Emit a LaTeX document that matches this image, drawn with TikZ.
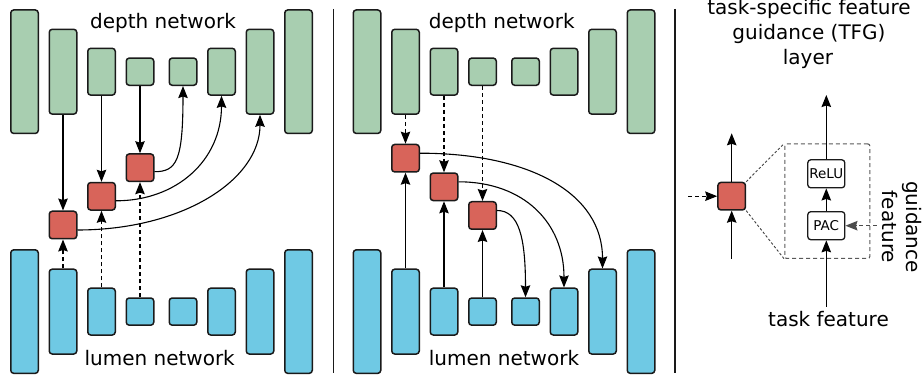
\documentclass[tikz,border=0pt]{standalone}
\usepackage{fontspec}
\setmainfont{DejaVu Sans}
\usetikzlibrary{arrows.meta}

\definecolor{depthgreen}{RGB}{168,206,176}
\definecolor{lumenblue}{RGB}{111,201,228}
\definecolor{tfgred}{RGB}{216,100,90}
\definecolor{edge}{RGB}{26,26,26}

\begin{document}
\begin{tikzpicture}[x=1pt,y=-1pt,
  blk/.style={draw=edge, line width=1.5pt, rounded corners=3pt, inner sep=0pt, minimum width=27.5pt},
  depthblk/.style={blk, fill=depthgreen},
  lumenblk/.style={blk, fill=lumenblue},
  tfgblk/.style={blk, fill=tfgred, minimum height=27.5pt},
  opblk/.style={draw=edge, line width=1.3pt, rounded corners=3pt, fill=white, inner sep=0pt,
    minimum width=37pt, minimum height=28pt, font=\fontsize{13.5}{15}\selectfont},
  conn/.style={draw=black, line width=1.1pt, -{Stealth[length=12pt,width=9.5pt,inset=1.5pt]}},
  dashconn/.style={conn, dash pattern=on 4pt off 3pt},
  label/.style={font=\fontsize{20}{24}\selectfont, inner sep=0pt},
  sep/.style={draw=edge, line width=1.2pt},
  zoomline/.style={draw=black!75, line width=0.9pt, dash pattern=on 2.5pt off 2pt},
  tfgframe/.style={draw=black!65, line width=1.1pt, dash pattern=on 4pt off 3pt, rounded corners=2pt,
    inner sep=0pt, minimum width=85pt, minimum height=114.5pt}
]
\useasboundingbox (0,0) rectangle (924,382);

% encoder-decoder stacks of both networks, left (L) and middle (M) variants
\foreach \p/\dx in {L/0, M/342.5} {
  \foreach \i/\x/\h in {1/24.5/123.5, 2/63/84.8, 3/101.5/46.8, 4/140/27.2,
                        5/183/27.2, 6/221.5/46.8, 7/260/84.8, 8/298.5/123.5} {
    \node[depthblk, minimum height=\h pt] (\p d\i) at ({\x+\dx}, 71.7) {};
    \node[lumenblk, minimum height=\h pt] (\p l\i) at ({\x+\dx}, 311.6) {};
  }
}

% network captions
\node[label, anchor=base] (Ldepth) at (163,29) {depth network};
\node[label, anchor=base] (Llumen) at (159.7,365.7) {lumen network};
\node[label, anchor=base] (Mdepth) at (501.7,29) {depth network};
\node[label, anchor=base] (Mlumen) at (504,365.7) {lumen network};

% panel separators
\draw[sep] (333.3,9) -- (333.3,373);
\draw[sep] (675,9) -- (675,373);

% TFG layers: lumen guides depth
\node[tfgblk] (Lr1) at (63,225) {};
\node[tfgblk] (Lr2) at (101.5,196.3) {};
\node[tfgblk] (Lr3) at (140,167.7) {};

\draw[conn] (Ld2.south) -- (Lr1.north);
\draw[conn] (Ld3.south) -- (Lr2.north);
\draw[conn] (Ld4.south) -- (Lr3.north);
\draw[dashconn] (Ll2.north) -- (Lr1.south);
\draw[dashconn] (Ll3.north) -- (Lr2.south);
\draw[dashconn] (Ll4.north) -- (Lr3.south);

\draw[conn] ([yshift=-4pt]Lr3.east) .. controls +(22,0) and +(0,75) .. (Ld5.south);
\draw[conn] ([yshift=-4.5pt]Lr2.east) .. controls +(60,0) and +(0,65) .. (Ld6.south);
\draw[conn] ([yshift=-5pt]Lr1.east) .. controls +(105,0) and +(0,65) .. (Ld7.south);

% TFG layers: depth guides lumen
\node[tfgblk] (Mr1) at (405.5,158.2) {};
\node[tfgblk] (Mr2) at (444,186.8) {};
\node[tfgblk] (Mr3) at (482.5,215.5) {};

\draw[dashconn] (Md2.south) -- (Mr1.north);
\draw[dashconn] (Md3.south) -- (Mr2.north);
\draw[dashconn] (Md4.south) -- (Mr3.north);
\draw[conn] (Ml2.north) -- (Mr1.south);
\draw[conn] (Ml3.north) -- (Mr2.south);
\draw[conn] (Ml4.north) -- (Mr3.south);

\draw[conn] ([yshift=5pt]Mr1.east) .. controls +(110,0) and +(0,-75) .. (Ml7.north);
\draw[conn] ([yshift=5pt]Mr2.east) .. controls +(65,0) and +(0,-65) .. (Ml6.north);
\draw[conn] ([yshift=5pt]Mr3.east) .. controls +(22,0) and +(0,-60) .. (Ml5.north);

% TFG layer in detail
\node[label, anchor=base] (title1) at (809,15) {task-specific feature};
\node[label, anchor=base] (title2) at (809,39.5) {guidance (TFG)};
\node[label, anchor=base] (title3) at (808,65) {layer};

\node[tfgblk] (R) at (731.7,196.2) {};
\coordinate (Rout) at (731.7,133.3);
\coordinate (Rin) at (731.7,259);
\coordinate (Rguide) at (688.3,196.2);
\draw[conn] (R.north) -- (Rout);
\draw[conn] (Rin) -- (R.south);
\draw[dashconn] (Rguide) -- (R.west);

\node[tfgframe] (frame) at (827.3,201.2) {};
\draw[zoomline] (R.north east) -- (frame.north west);
\draw[zoomline] (R.south east) -- (frame.south west);

\node[opblk] (relu) at (826.3,173.8) {ReLU};
\node[opblk] (pac) at (826.3,225.7) {PAC};
\coordinate (reluout) at (826.3,95);
\coordinate (taskin) at (826.3,306.7);
\coordinate (guidein) at (876.7,225.7);

\draw[conn] (pac.north) -- (relu.south);
\draw[conn] (relu.north) -- (reluout);
\draw[conn] (taskin) -- (pac.south);
\draw[dashconn, draw=black!70] (guidein) -- (pac.east);

\node[label, anchor=base] (task) at (828.5,326.7) {task feature};
\node[label, rotate=-90, align=center] (guide) at (902,227) {guidance\\feature};
\end{tikzpicture}
\end{document}
